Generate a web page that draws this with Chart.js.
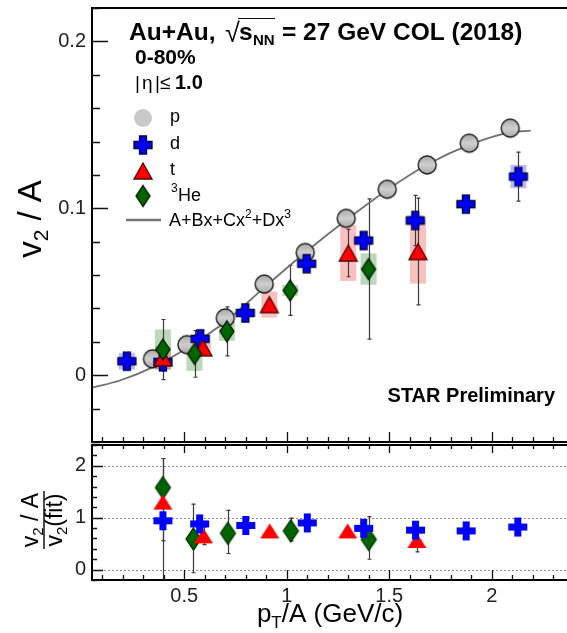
<!DOCTYPE html>
<html><head><meta charset="utf-8">
<script src="https://cdn.jsdelivr.net/npm/chart.js@4.4.1/dist/chart.umd.min.js"></script>
<style>
html,body{margin:0;padding:0;background:#fff;overflow:hidden;}
#wrap{position:relative;width:567px;height:633px;background:#fff;}
canvas{position:absolute;left:0;}
</style></head><body>
<div id="wrap">
<canvas id="cTop" width="567" height="444" style="top:0px"></canvas>
<canvas id="cBot" width="567" height="191" style="top:442px"></canvas>
</div>
<script>
// ---------------- data ----------------
const protonX = [0.345, 0.513, 0.70, 0.89, 1.09, 1.29, 1.49, 1.685, 1.89, 2.09];
const protonY = [0.0098, 0.0183, 0.0343, 0.0546, 0.0735, 0.094, 0.1114, 0.126, 0.139, 0.148];

const deuteronX = [0.22, 0.396, 0.578, 0.798, 1.097, 1.375, 1.627, 1.874, 2.13];
const deuteronY = [0.0084, 0.008, 0.0218, 0.0373, 0.0668, 0.0807, 0.0927, 0.1025, 0.119];
const deuteronErr = [0.002, 0.002, 0.003, 0.002, 0.003, 0.003, 0.015, 0.004, 0.0147];
const deuteronSys = [0.005, 0.001, 0.001, 0.001, 0.001, 0.002, 0.003, 0.002, 0.007];

const tritonX = [0.396, 0.591, 0.915, 1.30, 1.64];
const tritonY = [0.0104, 0.0164, 0.0423, 0.0732, 0.0741];
const tritonErr = [0.004, 0.003, 0.003, 0.0142, 0.032];
const tritonSys = [0.007, 0.003, 0.0078, 0.0167, 0.0192];

const heliumX = [0.396, 0.55, 0.708, 1.017, 1.399];
const heliumY = [0.0154, 0.0128, 0.0263, 0.0508, 0.0636];
const heliumErr = [0.018, 0.014, 0.0147, 0.015, 0.042];
const heliumSys = [0.012, 0.0102, 0.0057, 0.0032, 0.0094];

const fitX = [0.05, 0.19, 0.35, 0.51, 0.70, 0.89, 1.09, 1.29, 1.49, 1.69, 1.89, 2.09, 2.19];
const fitY = [-0.0075, -0.003, 0.005, 0.016, 0.032, 0.0525, 0.0735, 0.093, 0.111, 0.1265, 0.138, 0.1455, 0.1465];

// ratio panel v2/A / v2(fit)
const dRatioX = [0.396, 0.575, 0.80, 1.10, 1.375, 1.628, 1.875, 2.127];
const dRatioY = [0.94, 0.88, 0.85, 0.90, 0.795, 0.76, 0.745, 0.82];
const dRatioErr = [0.03, 0.03, 0.03, 0.03, 0.03, 0.03, 0.03, 0.03];

const tRatioX = [0.396, 0.594, 0.917, 1.297, 1.635];
const tRatioY = [1.30, 0.65, 0.745, 0.745, 0.56];
const tRatioErrLo = [0.74, 0.17, 0.03, 0.03, 0.22];
const tRatioErrHi = [0.84, 0.17, 0.03, 0.03, 0.22];

const heRatioX = [0.396, 0.545, 0.713, 1.02, 1.40];
const heRatioY = [1.58, 0.59, 0.70, 0.745, 0.58];
const heRatioErrLo = [1.9, 0.65, 0.39, 0.19, 0.38];
const heRatioErrHi = [0.56, 0.67, 0.44, 0.245, 0.44];

const xRange = [0.05, 2.367];
const xTickLabels = [0.5, 1, 1.5, 2];
const yTopRange = [-0.04, 0.22];
const yTopTicks = [0, 0.1, 0.2];
const yRatioRange = [-0.2, 2.4];
const yRatioTicks = [0, 1, 2];

// ---------------- marker images ----------------
function mk(w, h, draw) {
  const c = document.createElement('canvas');
  c.width = w; c.height = h;
  draw(c.getContext('2d'), w, h);
  return c;
}
function plus(size, arm, fill, stroke) {
  return mk(size + 4, size + 4, (g, W) => {
    const o = W / 2, h = size / 2, a = arm / 2;
    g.beginPath();
    g.moveTo(o - a, o - h); g.lineTo(o + a, o - h); g.lineTo(o + a, o - a); g.lineTo(o + h, o - a);
    g.lineTo(o + h, o + a); g.lineTo(o + a, o + a); g.lineTo(o + a, o + h); g.lineTo(o - a, o + h);
    g.lineTo(o - a, o + a); g.lineTo(o - h, o + a); g.lineTo(o - h, o - a); g.lineTo(o - a, o - a);
    g.closePath(); g.fillStyle = fill; g.fill();
    if (stroke) { g.strokeStyle = stroke; g.lineWidth = 1.3; g.stroke(); }
  });
}
function tri(w, h, fill, stroke) {
  return mk(w + 4, h + 4, (g, W, H) => {
    g.beginPath(); g.moveTo(W / 2, 2); g.lineTo(W - 2, H - 2); g.lineTo(2, H - 2); g.closePath();
    g.fillStyle = fill; g.fill();
    if (stroke) { g.strokeStyle = stroke; g.lineWidth = 1.3; g.stroke(); }
  });
}
function dia(w, h, fill, stroke) {
  return mk(w + 4, h + 4, (g, W, H) => {
    g.beginPath(); g.moveTo(W / 2, 2); g.lineTo(W - 2, H / 2); g.lineTo(W / 2, H - 2); g.lineTo(2, H / 2); g.closePath();
    g.fillStyle = fill; g.fill();
    if (stroke) { g.strokeStyle = stroke; g.lineWidth = 1.3; g.stroke(); }
  });
}
function circ(d, fillA, fillB, stroke) {
  return mk(d + 4, d + 4, (g, W) => {
    const o = W / 2;
    const gr = g.createLinearGradient(0, 2, 0, W - 2);
    gr.addColorStop(0, fillA); gr.addColorStop(0.5, fillB); gr.addColorStop(1, fillA);
    g.beginPath(); g.arc(o, o, d / 2, 0, Math.PI * 2);
    g.fillStyle = gr; g.fill();
    if (stroke) { g.strokeStyle = stroke; g.lineWidth = 1.4; g.stroke(); }
  });
}
const mP = circ(18, '#a9a9a9', '#cfcfcf', '#1a1a1a');
const mPleg = circ(18, '#c9c9c9', '#c9c9c9', null);
const mD = plus(18, 7, '#0000f5', '#00004a');
const mT = tri(18, 16, '#ff0000', '#500000');
const mH = dia(14, 21, '#006400', '#001a00');
const mDr = plus(19, 7, '#0000ff', null);
const mTr = tri(19, 15, '#ff0000', null);
const mHr = dia(15, 22, '#006400', '#003300');

const pts = (xs, ys) => xs.map((x, i) => ({ x: x, y: ys[i] }));

// ---------------- helpers ----------------
const FONT = '"Liberation Sans", Arial, Helvetica, sans-serif';
function rich(ctx, parts, x, y, align) {
  let w = 0;
  parts.forEach(p => { ctx.font = p[1]; w += ctx.measureText(p[0]).width; });
  let cx = align === 'center' ? x - w / 2 : (align === 'right' ? x - w : x);
  ctx.textAlign = 'left';
  parts.forEach(p => { ctx.font = p[1]; ctx.fillText(p[0], cx, y + (p[2] || 0)); cx += ctx.measureText(p[0]).width; });
  return w;
}
function sysBoxes(ctx, xs, ys, sy, sx, sy2, color) {
  ctx.fillStyle = color;
  xs.forEach((x, i) => {
    const px = sx.getPixelForValue(x);
    const top = sy2.getPixelForValue(ys[i] + sy[i]);
    const bot = sy2.getPixelForValue(ys[i] - sy[i]);
    ctx.fillRect(px - 8, top, 16, bot - top);
  });
}
function errBars(ctx, xs, ys, lo, hi, sx, sy, area) {
  ctx.save();
  ctx.beginPath(); ctx.rect(area.left, area.top, area.right - area.left, area.bottom - area.top); ctx.clip();
  ctx.strokeStyle = '#3a3a3a'; ctx.lineWidth = 1.2;
  xs.forEach((x, i) => {
    const px = Math.round(sx.getPixelForValue(x)) + 0.5;
    const t = sy.getPixelForValue(ys[i] + hi[i]);
    const b = sy.getPixelForValue(ys[i] - lo[i]);
    ctx.beginPath();
    ctx.moveTo(px, t); ctx.lineTo(px, b);
    ctx.moveTo(px - 2, t); ctx.lineTo(px + 2, t);
    ctx.moveTo(px - 2, b); ctx.lineTo(px + 2, b);
    ctx.stroke();
  });
  ctx.restore();
}
function xTicksInside(ctx, sx, yLine, dir, majLen, minLen, area) {
  ctx.beginPath();
  for (let k = 1; k <= 24; k++) {
    const v = k / 10;
    if (v < xRange[0] || v > xRange[1]) continue;
    const px = Math.round(sx.getPixelForValue(v)) + 0.5;
    const len = (k % 5 === 0) ? majLen : minLen;
    ctx.moveTo(px, yLine); ctx.lineTo(px, yLine + dir * len);
  }
  ctx.stroke();
}
function noPad(s) { s.paddingTop = 0; s.paddingBottom = 0; s.paddingLeft = 0; s.paddingRight = 0; }

// ---------------- top panel ----------------
const topDecor = {
  id: 'topDecor',
  beforeDatasetsDraw(chart) {
    const { ctx, chartArea: a, scales: { x, y } } = chart;
    ctx.save();
    sysBoxes(ctx, deuteronX, deuteronY, deuteronSys, x, y, 'rgba(40,40,255,0.32)');
    sysBoxes(ctx, tritonX, tritonY, tritonSys, x, y, 'rgba(240,60,60,0.32)');
    sysBoxes(ctx, heliumX, heliumY, heliumSys, x, y, 'rgba(30,130,30,0.30)');
    errBars(ctx, deuteronX, deuteronY, deuteronErr, deuteronErr, x, y, a);
    errBars(ctx, tritonX, tritonY, tritonErr, tritonErr, x, y, a);
    errBars(ctx, heliumX, heliumY, heliumErr, heliumErr, x, y, a);
    ctx.restore();
  },
  afterDraw(chart) {
    const { ctx, chartArea: a, scales: { x, y } } = chart;
    ctx.save();
    // frame
    ctx.strokeStyle = '#000'; ctx.lineWidth = 2;
    ctx.beginPath();
    ctx.moveTo(a.right + 2, a.top); ctx.lineTo(a.left, a.top); ctx.lineTo(a.left, a.bottom); ctx.lineTo(a.right + 2, a.bottom);
    ctx.stroke();
    // inside ticks
    ctx.lineWidth = 1.3; ctx.strokeStyle = '#111';
    ctx.beginPath();
    for (let k = -2; k <= 11; k++) {
      const v = k * 0.02;
      const py = Math.round(y.getPixelForValue(v)) + 0.5;
      const len = (k % 5 === 0) ? 16 : 8;
      ctx.moveTo(a.left, py); ctx.lineTo(a.left + len, py);
    }
    ctx.stroke();
    xTicksInside(ctx, x, a.bottom, -1, 10, 5, a);

    ctx.fillStyle = '#000'; ctx.textBaseline = 'alphabetic';
    // header
    const B24 = 'bold 24.5px ' + FONT;
    ctx.font = B24; ctx.fillText('Au+Au,', 129, 40);
    ctx.font = '27px ' + FONT; ctx.fillText('\u221A', 225, 42);
    ctx.font = B24; ctx.fillText('s', 239, 40);
    ctx.font = 'bold 15px ' + FONT; ctx.fillText('NN', 253, 45);
    ctx.lineWidth = 1.2; ctx.beginPath(); ctx.moveTo(238, 18.5); ctx.lineTo(275, 18.5); ctx.stroke();
    ctx.font = B24; ctx.fillText('= 27 GeV COL (2018)', 282, 40);
    ctx.font = 'bold 21px ' + FONT; ctx.fillText('0-80%', 135, 64);
    ctx.font = '19px ' + FONT; ctx.fillText('|', 135, 89); ctx.fillText('\u03B7', 142, 89); ctx.fillText('|', 155, 89); ctx.fillText('\u2264', 160, 89);
    ctx.font = 'bold 20px ' + FONT; ctx.fillText('1.0', 175, 89);

    // legend
    const L = '18px ' + FONT;
    const legRows = [[mPleg, 'p', 118], [mD, 'd', 145], [mT, 't', 171], [mH, 'He', 196]];
    legRows.forEach(r => {
      ctx.drawImage(r[0], 143 - r[0].width / 2, r[2] - r[0].height / 2);
    });
    ctx.textBaseline = 'middle';
    ctx.font = L;
    ctx.fillText('p', 170, 117); ctx.fillText('d', 170, 144); ctx.fillText('t', 170, 170);
    ctx.font = '12px ' + FONT; ctx.fillText('3', 171, 189);
    ctx.font = L; ctx.fillText('He', 178, 196);
    ctx.strokeStyle = '#777'; ctx.lineWidth = 2.5;
    ctx.beginPath(); ctx.moveTo(126, 220); ctx.lineTo(161, 220); ctx.stroke();
    ctx.textBaseline = 'alphabetic';
    rich(ctx, [['A+Bx+Cx', L], ['2', '12px ' + FONT, -8], ['+Dx', L], ['3', '12px ' + FONT, -8]], 169, 226, 'left');

    // STAR Preliminary
    ctx.font = 'bold 20px ' + FONT; ctx.textAlign = 'right';
    ctx.fillText('STAR Preliminary', 555, 402);

    // y title
    ctx.save();
    ctx.translate(29, 219); ctx.rotate(-Math.PI / 2);
    rich(ctx, [['v', '33px ' + FONT], ['2', '21px ' + FONT, 7], [' / A', '33px ' + FONT]], 0, 12, 'center');
    ctx.restore();
    ctx.restore();
  }
};

new Chart(document.getElementById('cTop'), {
  type: 'scatter',
  data: {
    datasets: [
      { label: '3He', data: pts(heliumX, heliumY), pointStyle: mH, pointRadius: 10, order: 1 },
      { label: 't', data: pts(tritonX, tritonY), pointStyle: mT, pointRadius: 10, order: 2 },
      { label: 'd', data: pts(deuteronX, deuteronY), pointStyle: mD, pointRadius: 10, order: 3 },
      { label: 'p', data: pts(protonX, protonY), pointStyle: mP, pointRadius: 10, order: 4 },
      { label: 'A+Bx+Cx2+Dx3', type: 'line', data: pts(fitX, fitY), borderColor: '#707070', borderWidth: 1.8,
        pointRadius: 0, cubicInterpolationMode: 'monotone', fill: false, order: 5 }
    ]
  },
  options: {
    responsive: false, animation: false, devicePixelRatio: 1, events: [],
    layout: { autoPadding: false, padding: { top: 8, bottom: 2, left: 0, right: 0 } },
    plugins: { legend: { display: false }, tooltip: { enabled: false } },
    scales: {
      x: { type: 'linear', min: xRange[0], max: xRange[1], display: false },
      y: {
        type: 'linear', min: yTopRange[0], max: yTopRange[1],
        afterFit: s => { s.width = 92; noPad(s); },
        afterBuildTicks: s => { s.ticks = yTopTicks.map(v => ({ value: v })); },
        grid: { display: false, drawTicks: false, tickLength: 0 },
        border: { display: false },
        ticks: { padding: 6, color: '#222', font: { family: FONT, size: 20 }, callback: v => String(v) }
      }
    }
  },
  plugins: [topDecor]
});

// ---------------- ratio panel ----------------
const botDecor = {
  id: 'botDecor',
  beforeDatasetsDraw(chart) {
    const { ctx, chartArea: a, scales: { x, y } } = chart;
    ctx.save();
    ctx.strokeStyle = '#8a8a8a'; ctx.lineWidth = 1; ctx.setLineDash([2, 2]);
    yRatioTicks.forEach(v => {
      const py = Math.round(y.getPixelForValue(v)) + 0.5;
      ctx.beginPath(); ctx.moveTo(a.left, py); ctx.lineTo(a.right, py); ctx.stroke();
    });
    ctx.setLineDash([]);
    errBars(ctx, dRatioX, dRatioY, dRatioErr, dRatioErr, x, y, a);
    errBars(ctx, tRatioX, tRatioY, tRatioErrLo, tRatioErrHi, x, y, a);
    errBars(ctx, heRatioX, heRatioY, heRatioErrLo, heRatioErrHi, x, y, a);
    ctx.restore();
  },
  afterDraw(chart) {
    const { ctx, chartArea: a, scales: { x, y } } = chart;
    ctx.save();
    ctx.strokeStyle = '#000'; ctx.lineWidth = 2;
    ctx.beginPath();
    ctx.moveTo(a.right + 2, a.top); ctx.lineTo(a.left, a.top); ctx.lineTo(a.left, a.bottom); ctx.lineTo(a.right + 2, a.bottom);
    ctx.stroke();
    ctx.lineWidth = 1.3; ctx.strokeStyle = '#111';
    ctx.beginPath();
    for (let k = -1; k <= 12; k++) {
      const v = k * 0.2;
      const py = Math.round(y.getPixelForValue(v)) + 0.5;
      const len = (k % 5 === 0) ? 11 : 5;
      ctx.moveTo(a.left, py); ctx.lineTo(a.left + len, py);
    }
    ctx.stroke();
    xTicksInside(ctx, x, a.top, 1, 8, 4, a);
    xTicksInside(ctx, x, a.bottom, -1, 10, 5, a);

    ctx.fillStyle = '#000'; ctx.textBaseline = 'alphabetic';
    // y title (fraction)
    ctx.save();
    ctx.translate(44, 78); ctx.rotate(-Math.PI / 2);
    const F = '23px ' + FONT, S = '15px ' + FONT;
    rich(ctx, [['v', F], ['2', S, 5], [' / A', F]], 0, -6, 'center');
    rich(ctx, [['v', F], ['2', S, 5], ['(fit)', F]], 0, 18, 'center');
    ctx.lineWidth = 1.5; ctx.beginPath(); ctx.moveTo(-29, 0); ctx.lineTo(29, 0); ctx.stroke();
    ctx.restore();
    // x title
    rich(ctx, [['p', '26px ' + FONT], ['T', '17px ' + FONT, 6], ['/A (GeV/c)', '26px ' + FONT]], 330, 180, 'center');
    ctx.restore();
  }
};

new Chart(document.getElementById('cBot'), {
  type: 'scatter',
  data: {
    datasets: [
      { label: 'd', data: pts(dRatioX, dRatioY), pointStyle: mDr, pointRadius: 10, order: 1 },
      { label: 't', data: pts(tRatioX, tRatioY), pointStyle: mTr, pointRadius: 10, order: 2 },
      { label: '3He', data: pts(heRatioX, heRatioY), pointStyle: mHr, pointRadius: 10, order: 3 }
    ]
  },
  options: {
    responsive: false, animation: false, devicePixelRatio: 1, events: [],
    layout: { autoPadding: false, padding: { top: 3, bottom: 0, left: 0, right: 0 } },
    plugins: { legend: { display: false }, tooltip: { enabled: false } },
    scales: {
      x: {
        type: 'linear', min: xRange[0], max: xRange[1],
        afterFit: s => { s.height = 53; noPad(s); },
        afterBuildTicks: s => { s.ticks = xTickLabels.map(v => ({ value: v })); },
        grid: { display: false, drawTicks: false, tickLength: 0 },
        border: { display: false },
        ticks: { padding: 4, color: '#222', maxRotation: 0, autoSkip: false, font: { family: FONT, size: 20 }, callback: v => String(v) }
      },
      y: {
        type: 'linear', min: yRatioRange[0], max: yRatioRange[1],
        afterFit: s => { s.width = 92; noPad(s); },
        afterBuildTicks: s => { s.ticks = yRatioTicks.map(v => ({ value: v })); },
        grid: { display: false, drawTicks: false, tickLength: 0 },
        border: { display: false },
        ticks: { padding: 6, color: '#222', font: { family: FONT, size: 20 }, callback: v => String(v) }
      }
    }
  },
  plugins: [botDecor]
});
</script>
</body></html>
